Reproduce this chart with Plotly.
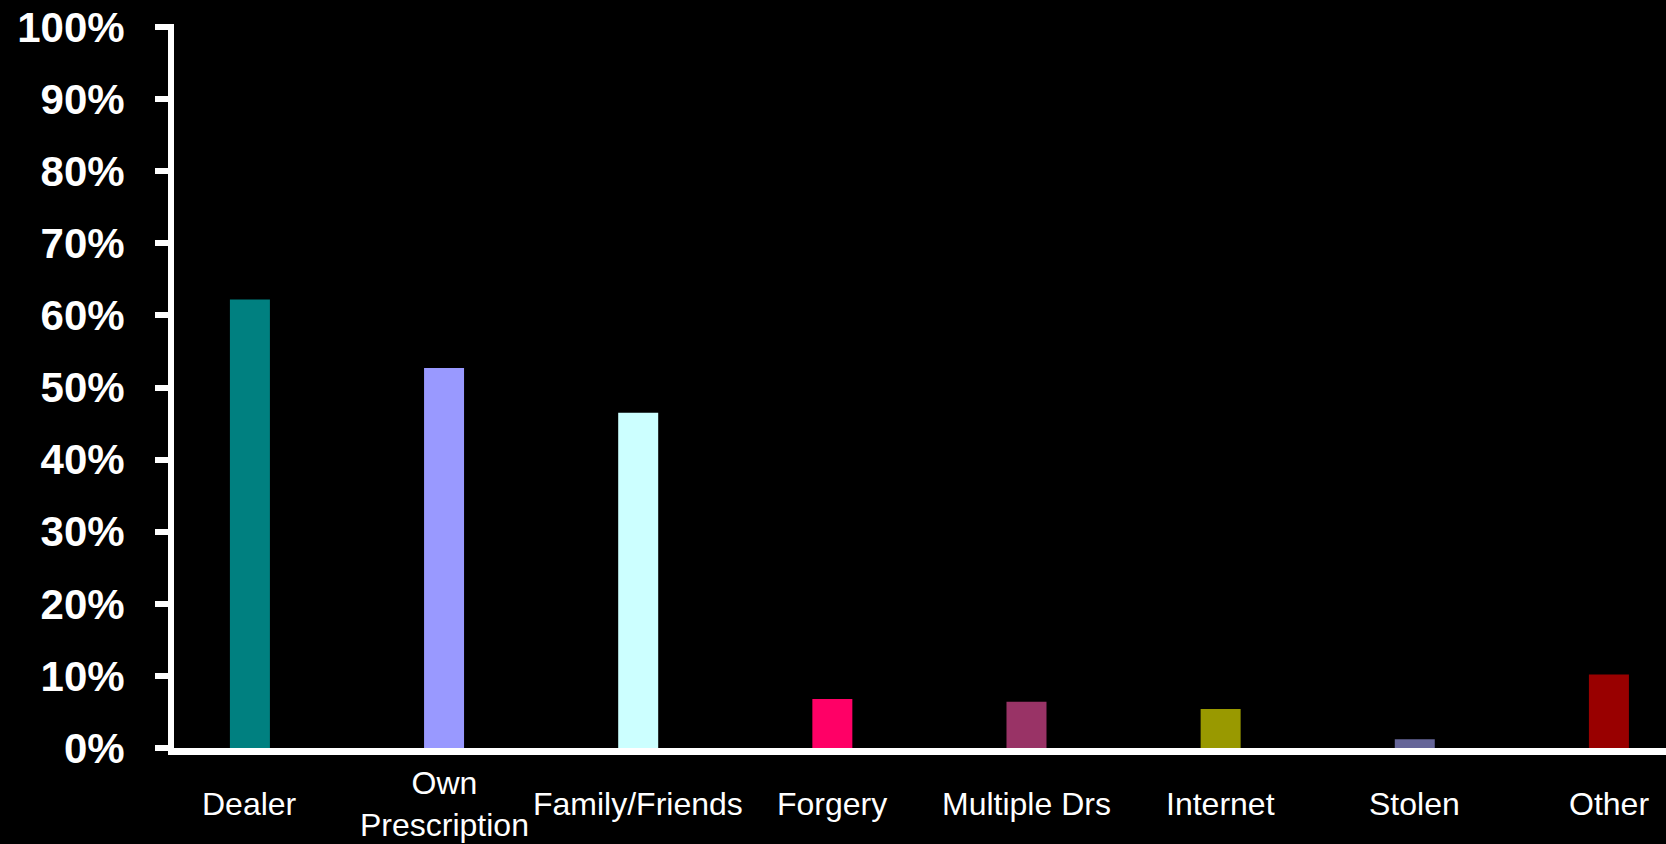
import plotly.graph_objects as go

# Sources of diverted prescription drugs (share of respondents, %)
categories = ["Dealer", "Own Prescription", "Family/Friends", "Forgery",
              "Multiple Drs", "Internet", "Stolen", "Other"]
tick_labels = ["Dealer", "Own<br>Prescription", "Family/Friends", "Forgery",
               "Multiple Drs", "Internet", "Stolen", "Other"]
values = [62.2, 52.7, 46.5, 6.8, 6.4, 5.4, 1.2, 10.2]
bar_colors = ["#008080", "#9999FF", "#CCFFFF", "#FF0066",
              "#993366", "#999900", "#666699", "#990000"]
y_ticks = [0, 10, 20, 30, 40, 50, 60, 70, 80, 90, 100]
y_tick_text = [f"{t}%" for t in y_ticks]

FONT = "Arial, 'Liberation Sans', sans-serif"

fig = go.Figure(
    go.Bar(
        x=categories,
        y=values,
        marker=dict(color=bar_colors, line=dict(width=0)),
        hoverinfo="skip",
    )
)

# category labels under the axis, vertically centred like the slide layout
annotations = [
    dict(
        x=cat, y=-0.0773, xref="x", yref="paper",
        text=lab, showarrow=False,
        xanchor="center", yanchor="middle",
        font=dict(family=FONT, size=32, color="white"),
    )
    for cat, lab in zip(categories, tick_labels)
]

fig.update_layout(
    width=1666,
    height=844,
    paper_bgcolor="black",
    plot_bgcolor="black",
    margin=dict(l=174, r=0, t=24, b=96),
    showlegend=False,
    bargap=0.794,
    annotations=annotations,
    xaxis=dict(
        type="category",
        range=[-0.391, 7.294],
        showticklabels=False,
        ticks="",
        showgrid=False,
        zeroline=False,
        showline=True,
        linecolor="white",
        linewidth=7,
        fixedrange=True,
    ),
    yaxis=dict(
        range=[0, 100.42],
        tickvals=y_ticks,
        ticktext=y_tick_text,
        tickfont=dict(family=FONT, size=42, color="white", weight="bold"),
        ticks="outside",
        ticklen=13,
        tickwidth=6,
        tickcolor="white",
        ticklabelstandoff=22,
        showgrid=False,
        zeroline=False,
        showline=True,
        linecolor="white",
        linewidth=6,
        fixedrange=True,
    ),
)

fig.write_html("out.html", config={"displayModeBar": False})
